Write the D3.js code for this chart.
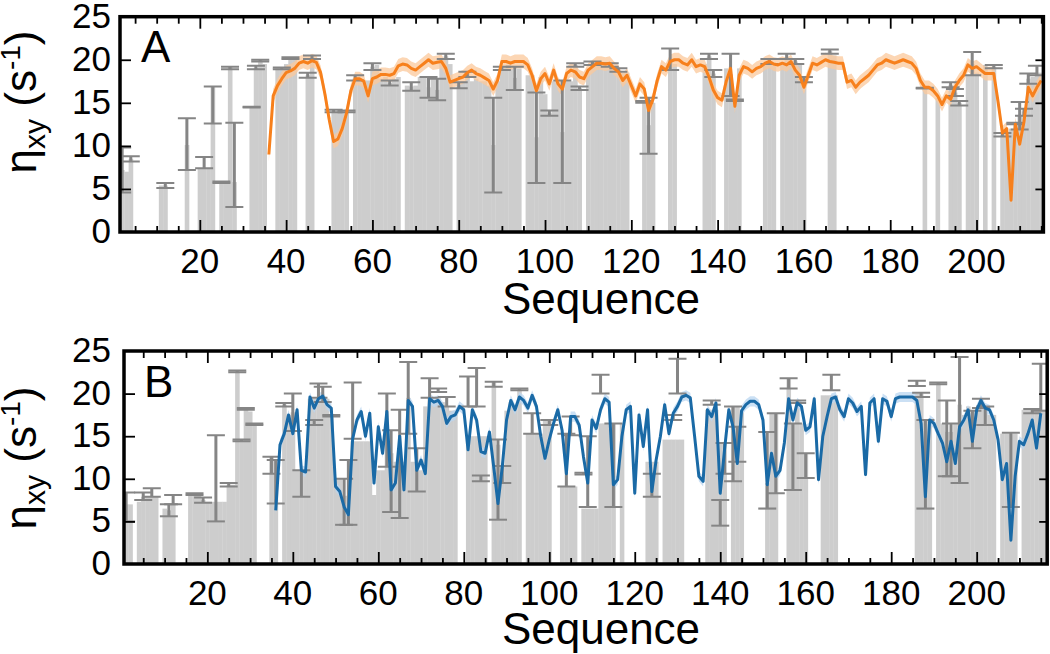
<!DOCTYPE html>
<html><head><meta charset="utf-8">
<script src="https://cdn.jsdelivr.net/npm/d3@7"></script>
<style>body{margin:0;background:#fff}</style>
</head><body>
<script>
// ---------------- DATA ----------------
// Panel A: per-residue bars [residue, value]
const barsA = [[2,7.2],[3,7.0],[4,8.5],[11,5.4],[12,5.4],[17,10.1],[20,7.4],[21,7.4],[22,7.4],[23,16.9],[25,5.8],[26,5.8],[27,19.2],[28,5.8],
[32,14.5],[33,19.1],[34,19.9],[35,19.5],[38,19.0],[39,19.0],[40,19.5],[41,20.2],[42,20.2],[45,18.2],[46,20.3],
[51,14.0],[52,14.0],[53,14.0],[54,14.0],[56,17.6],[57,17.6],[58,17.6],[59,17.6],[60,19.2],[61,19.4],[62,17.8],[63,18.0],[64,17.3],[65,17.8],[66,18.0],
[68,17.0],[69,16.9],[70,17.0],[71,18.0],[72,18.0],[73,16.8],[74,18.0],[75,16.5],[76,20.0],[77,20.4],[78,19.5],
[80,17.1],[81,17.5],[82,18.3],[83,17.5],[84,17.8],[85,17.5],[86,17.5],[87,17.0],[88,10.1],[89,17.5],[90,19.0],[91,19.2],[92,19.0],[93,17.9],[94,19.0],
[96,18.2],[97,18.2],[98,11.0],[99,18.0],[100,16.0],[101,13.8],[102,17.5],[103,17.5],[104,11.6],[105,17.5],[106,17.5],[107,19.4],[108,16.7],
[110,19.0],[111,19.6],[112,19.5],[113,19.5],[114,19.5],[115,19.4],[116,19.2],[117,18.8],[118,18.5],[119,18.5],
[123,15.1],[124,12.4],[125,15.0],[129,20.0],[130,19.5],[137,19.5],[138,20.4],[139,18.4],[142,19.0],[143,18.3],[144,15.3],[145,19.0],
[151,19.5],[152,19.8],[153,19.5],[155,19.5],[156,20.3],[157,19.8],[158,19.8],[159,19.5],[160,17.7],[166,21.0],[167,20.5],
[188,16.7],[191,15.6],[194,17.1],[195,16.2],[196,15.0],[198,18.2],[199,19.5],[200,18.5],[202,19.4],[204,19.2],
[206,11.3],[207,11.5],[208,12.0],[209,12.6],[210,13.5],[211,14.0],[212,17.8],[213,18.0],[214,18.5],[215,18.5]];
// Panel A error bars [residue, low, high]
const errA = [[2,4.6,9.8],[4,8.2,8.8],[12,5.1,5.7],[17,7.2,13.2],[21,7.4,8.7],[23,12.6,16.9],[25,5.7,5.85],[27,18.9,19.2],[28,2.9,12.7],
[32,14.45,14.55],[33,18.9,19.3],[34,19.8,20.0],[39,18.9,19.1],[41,20.1,20.3],[45,17.9,18.5],[46,20.1,20.5],[51,13.9,14.2],[54,13.9,14.1],
[56,17.6,18.2],[60,18.8,19.6],[64,17.0,17.6],[69,16.4,17.4],[73,15.6,18.0],[75,15.3,17.8],[77,20.1,20.7],[80,16.7,17.4],[82,18.0,18.6],
[88,4.6,15.6],[90,18.8,19.2],[93,16.5,19.2],[98,5.7,16.2],[101,13.5,14.1],[104,5.7,17.6],[107,19.2,19.6],[108,16.5,16.9],[111,19.4,19.8],
[115,19.2,19.6],[117,18.6,19.0],[123,15.0,15.2],[124,9.1,15.6],[129,18.8,21.3],[138,20.1,20.7],[139,18.0,18.8],[143,15.8,20.7],[144,15.2,15.4],
[152,19.5,20.1],[156,20.1,20.7],[158,19.5,20.1],[160,17.4,18.0],[166,20.7,21.2],[188,16.65,16.75],[194,16.8,17.4],[195,15.8,16.6],[196,14.7,15.2],
[199,18.2,20.9],[204,19.0,19.4],[206,11.1,11.5],[209,12.5,12.7],[210,11.9,15.1],[211,13.5,14.3],[212,17.2,18.4],[214,18.2,19.3]];
// Panel A curve, residues 36..215
const lineStart = 36;
const lineA = [9.0,15.8,17.0,17.8,18.5,18.7,19.0,19.6,19.8,19.6,
19.9,19.7,18.5,16.0,13.0,10.5,10.8,12.0,13.8,16.4,
17.8,17.8,17.5,15.8,17.8,18.0,18.3,18.3,18.2,18.4,
19.3,19.5,19.4,19.0,18.8,19.2,19.6,20.0,19.6,19.7,
19.8,19.0,17.4,17.6,17.8,18.0,18.5,18.8,18.4,18.2,
17.9,17.6,16.6,17.6,19.8,19.8,19.6,19.8,19.8,19.8,
19.4,18.2,16.4,17.8,18.4,17.2,18.8,17.2,16.6,18.4,
18.8,18.6,18.0,17.8,18.8,19.2,19.6,19.6,19.5,19.6,
19.0,18.6,17.6,18.2,17.0,15.8,17.2,16.6,14.1,15.4,
17.6,19.2,18.8,19.8,20.0,20.0,19.6,19.4,20.0,19.2,
19.4,19.2,18.0,16.5,15.6,15.3,17.5,19.0,14.6,18.2,
19.2,19.0,18.6,19.0,19.2,19.6,19.8,19.5,19.4,19.6,
19.4,19.8,18.8,18.2,16.8,18.2,19.6,19.4,19.7,20.0,
19.8,19.7,19.6,19.6,17.4,17.6,16.8,17.4,17.8,18.2,
18.8,19.4,19.6,20.0,19.8,19.6,19.8,20.0,19.8,19.6,
19.0,17.6,16.8,16.8,16.4,15.8,14.8,15.8,15.4,16.8,
17.6,18.2,19.4,19.0,19.2,18.8,18.4,18.4,18.4,15.1,
11.5,12.0,3.7,12.5,10.2,12.8,16.8,15.8,16.8,17.6];
const bandA = 0.8;

// Panel B
const barsB = [[1,7.0],[2,7.0],[4,7.3],[5,7.9],[6,7.9],[7,7.9],[8,7.9],[10,6.5],[11,6.3],[12,7.0],[16,8.3],[17,8.2],[18,8.0],[19,7.5],[20,7.3],[21,7.3],
[22,7.3],[23,7.3],[24,7.3],[25,9.3],[26,9.3],[27,22.6],[28,14.5],[29,18.2],[30,17.9],[31,16.4],[35,12.6],[36,12.2],[38,18.7],[39,17.5],[40,17.8],
[41,11.0],[42,11.0],[43,11.0],[44,19.4],[45,19.4],[46,19.4],[47,19.4],[48,19.4],[49,17.4],[50,10.0],[51,10.0],[52,8.0],[53,8.0],[54,14.4],[55,14.4],
[56,14.4],[57,14.4],[58,14.4],[59,8.1],[60,11.0],[61,11.0],[62,15.5],[63,13.0],[64,12.0],[65,11.5],[66,12.0],[67,19.5],[68,12.0],[69,11.0],[70,11.0],
[71,18.5],[72,19.5],[73,19.0],[74,19.5],[75,19.0],[76,18.5],[77,18.0],[78,18.0],[81,15.0],[82,15.0],[83,15.0],[84,15.0],[85,15.0],[87,21.4],[88,14.0],
[89,11.5],[90,18.0],[91,19.0],[92,18.0],[93,20.5],[95,15.3],[96,15.3],[97,15.3],[98,15.3],[99,16.9],[100,16.9],[103,9.1],[104,9.1],[105,9.1],[106,9.1],
[108,6.5],[109,6.5],[110,6.5],[111,6.5],[112,16.5],[113,16.5],[114,16.5],[115,16.5],[117,16.5],[123,12.0],[124,12.0],[125,12.0],[127,14.6],[128,14.6],
[129,14.6],[130,14.6],[131,14.6],[137,18.1],[138,18.1],[139,18.1],[140,14.2],[141,14.2],[143,18.5],[144,18.5],[145,18.0],[151,9.5],[152,17.7],[153,17.7],
[156,21.8],[157,16.5],[158,18.9],[159,16.5],[160,13.0],[164,19.8],[165,19.8],[166,19.8],[167,19.8],[186,20.0],[187,20.0],[188,16.9],[189,17.0],
[191,21.2],[192,16.5],[193,15.5],[194,15.5],[195,16.5],[196,18.7],[197,17.5],[198,18.5],[199,18.0],[200,18.0],[201,18.5],[202,18.5],[203,17.5],[204,17.5],
[206,15.3],[207,15.3],[208,15.3],[209,15.3],[211,18.1],[212,18.1],[213,18.1],[214,18.1],[215,18.1],[216,18.1]];
const errB = [[1,5.0,8.4],[5,7.5,8.4],[7,7.9,8.9],[11,5.6,7.0],[12,7.0,8.1],[17,8.1,8.3],[19,7.2,7.8],[22,5.0,15.1],[25,9.1,9.5],[27,22.5,22.7],
[28,14.4,14.6],[29,18.1,18.3],[31,16.3,16.5],[35,10.6,12.6],[36,7.1,12.2],[38,18.5,18.9],[40,15.6,20.0],[42,7.9,11.0],[45,16.3,16.9],[46,19.5,21.2],
[47,19.0,20.8],[49,17.3,17.5],[52,4.6,10.0],[53,4.6,12.2],[54,14.7,21.3],[62,11.4,20.0],[63,6.1,15.7],[65,5.4,18.1],[67,15.3,23.7],[69,8.5,13.6],
[72,19.5,21.8],[74,20.2,20.6],[76,18.5,19.6],[81,18.5,22.0],[83,18.5,23.0],[84,9.7,10.4],[87,20.8,21.4],[88,5.2,14.6],[89,9.5,11.5],[93,20.4,20.6],
[96,15.3,17.7],[100,16.3,16.9],[104,9.1,15.3],[105,15.1,17.3],[108,10.5,10.7],[109,6.7,15.0],[112,20.0,22.2],[115,6.7,16.5],[124,7.9,10.6],
[129,16.9,17.5],[130,20.0,24.1],[138,18.7,19.2],[140,4.5,7.5],[141,10.6,14.2],[143,9.7,18.5],[144,12.0,16.1],[151,6.5,15.5],[153,8.3,17.7],
[156,20.6,21.8],[157,8.7,16.5],[158,18.9,19.2],[160,10.1,13.0],[166,20.4,22.2],[186,20.9,21.5],[187,19.6,20.1],[188,6.5,16.9],[191,21.1,21.3],
[193,10.3,19.2],[194,10.3,16.5],[196,9.5,24.3],[199,13.6,18.0],[201,18.3,19.4],[202,16.3,18.5],[208,6.7,15.4],[213,17.7,18.2],[215,18.0,23.5]];
const lineB = [6.3,14.0,15.3,17.5,15.3,18.1,11.0,10.8,19.6,18.3,
19.4,19.7,18.7,18.3,9.1,8.5,6.7,5.8,14.7,16.9,
17.9,15.0,17.7,9.5,16.1,13.0,17.9,8.7,9.5,15.0,
8.7,19.2,18.5,11.0,12.2,10.6,19.4,19.0,19.2,18.5,
16.5,17.3,17.5,18.5,18.1,13.4,18.1,16.9,13.2,13.0,
15.5,11.4,7.1,11.4,16.9,19.2,18.1,19.6,19.2,18.3,
19.8,18.5,15.0,12.4,14.6,16.5,18.1,15.7,10.6,17.3,
17.3,16.3,12.6,9.5,16.9,15.9,18.1,19.4,19.0,9.3,
9.9,15.0,18.1,18.5,8.3,17.5,13.8,18.1,8.5,12.2,
15.0,18.7,15.3,17.7,18.5,19.6,19.8,19.5,15.0,10.3,
9.7,18.1,17.3,18.9,8.3,13.4,18.1,16.1,11.8,18.0,
18.7,19.1,19.1,18.7,16.9,9.3,13.0,10.3,11.0,14.2,
19.4,16.9,18.9,18.5,15.7,16.1,19.4,9.9,15.0,17.3,
19.4,19.6,18.1,17.3,19.4,18.9,17.9,18.5,10.5,18.9,
19.4,14.4,19.4,19.1,17.3,19.4,19.6,19.6,19.6,19.6,
19.2,16.5,7.9,16.9,16.5,15.3,14.2,12.0,14.4,11.8,
16.1,16.9,18.1,14.4,18.1,19.2,18.3,18.1,16.9,14.6,
9.9,11.8,2.8,10.3,14.4,14.0,15.3,16.9,13.6,17.7];
const bandB = 0.6;

const yTicks = [0,5,10,15,20,25];
const xMajor = [20,40,60,80,100,120,140,160,180,200];
const xMinor = d3.range(5,216,5).filter(d => d % 20 !== 0);

// ---------------- DRAW ----------------
const W = 1050, H = 654;
const FONT = "'Liberation Sans', Arial, Helvetica, sans-serif";
const svg = d3.select("body").append("svg").attr("width", W).attr("height", H)
  .style("font-family", FONT);

const panels = [
  {id:"A", bars:barsA, err:errA, line:lineA, band:bandA, color:"#f7801c", fill:"#fbc89b",
   left:120, right:1043.4, top:16.7, bottom:232, dom:[1.5,215.5], labelY:102, letterX:141, letterY:62, seqY:314},
  {id:"B", bars:barsB, err:errB, line:lineB, band:bandB, color:"#1a6aa6", fill:"#b9d6f0",
   left:124, right:1047.2, top:351, bottom:564, dom:[0.5,216.5], labelY:458, letterX:144, letterY:397, seqY:644}
];

panels.forEach(p => {
  const x = d3.scaleLinear().domain(p.dom).range([p.left, p.right]);
  const y = d3.scaleLinear().domain([0,25]).range([p.bottom, p.top]);
  const g = svg.append("g");
  const clipId = "clip" + p.id;
  g.append("clipPath").attr("id", clipId).append("rect")
    .attr("x", p.left).attr("y", p.top).attr("width", p.right - p.left).attr("height", p.bottom - p.top);
  const plot = g.append("g").attr("clip-path", `url(#${clipId})`);
  const bw = x(1) - x(0);

  plot.append("g").selectAll("rect").data(p.bars).join("rect")
    .attr("x", d => x(d[0] - 0.5)).attr("width", bw + 0.3)
    .attr("y", d => y(d[1])).attr("height", d => y(0) - y(d[1]))
    .attr("fill", "#cdcdcd");

  const pts = p.line.map((v, i) => [lineStart + i, v]);
  plot.append("path").datum(pts)
    .attr("d", d3.area().x(d => x(d[0])).y0(d => y(d[1] - p.band)).y1(d => y(d[1] + p.band)))
    .attr("fill", p.fill).attr("opacity", 0.75);

  const eg = plot.append("g").attr("stroke", "#858585");
  eg.selectAll("line.v").data(p.err).join("line").attr("class","v")
    .attr("x1", d => x(d[0])).attr("x2", d => x(d[0]))
    .attr("y1", d => y(d[1])).attr("y2", d => y(d[2])).attr("stroke-width", 3);
  const capHalf = 9;
  eg.selectAll("line.lo").data(p.err).join("line").attr("class","lo")
    .attr("x1", d => x(d[0]) - capHalf).attr("x2", d => x(d[0]) + capHalf)
    .attr("y1", d => y(d[1])).attr("y2", d => y(d[1])).attr("stroke-width", 2);
  eg.selectAll("line.hi").data(p.err).join("line").attr("class","hi")
    .attr("x1", d => x(d[0]) - capHalf).attr("x2", d => x(d[0]) + capHalf)
    .attr("y1", d => y(d[2])).attr("y2", d => y(d[2])).attr("stroke-width", 2);

  plot.append("path").datum(pts)
    .attr("d", d3.line().x(d => x(d[0])).y(d => y(d[1])))
    .attr("fill", "none").attr("stroke", p.color).attr("stroke-width", 3).attr("stroke-linejoin", "round");

  // ticks via axes
  const styleAxis = sel => { sel.select(".domain").remove(); sel.selectAll(".tick line").attr("stroke", "#000").attr("stroke-width", 1.8); sel.selectAll("text").remove(); };
  g.append("g").attr("transform", `translate(0,${p.bottom})`).call(d3.axisBottom(x).tickValues(xMinor).tickSize(-6)).call(styleAxis);
  g.append("g").attr("transform", `translate(0,${p.bottom})`).call(d3.axisBottom(x).tickValues(xMajor).tickSize(-12)).call(styleAxis);
  g.append("g").attr("transform", `translate(0,${p.top})`).call(d3.axisTop(x).tickValues(xMinor).tickSize(-7)).call(styleAxis);
  g.append("g").attr("transform", `translate(0,${p.top})`).call(d3.axisTop(x).tickValues(xMajor).tickSize(-12)).call(styleAxis);
  g.append("g").attr("transform", `translate(${p.left},0)`).call(d3.axisLeft(y).tickValues([5,10,15,20]).tickSize(-11)).call(styleAxis);
  g.append("g").attr("transform", `translate(${p.right},0)`).call(d3.axisRight(y).tickValues([5,10,15,20]).tickSize(-8)).call(styleAxis);

  // frame
  g.append("rect").attr("x", p.left).attr("y", p.top).attr("width", p.right - p.left).attr("height", p.bottom - p.top)
    .attr("fill", "none").attr("stroke", "#000").attr("stroke-width", 3.5);

  // tick labels
  g.append("g").selectAll("text").data(yTicks).join("text")
    .attr("x", 111).attr("y", d => y(d) + 11).attr("text-anchor", "end")
    .attr("font-size", 35).text(d => d);
  g.append("g").selectAll("text").data(xMajor).join("text")
    .attr("x", d => x(d)).attr("y", p.bottom + 41).attr("text-anchor", "middle")
    .attr("font-size", 35).text(d => d);

  // axis titles
  g.append("text").attr("x", 601).attr("y", p.seqY).attr("text-anchor", "middle")
    .attr("font-size", 44).text("Sequence");
  const yl = g.append("text").attr("transform", `translate(36,${p.labelY}) rotate(-90)`)
    .attr("text-anchor", "middle").attr("font-size", 44);
  yl.append("tspan").text("η");
  yl.append("tspan").attr("font-size", 30).attr("dy", 9).text("xy");
  yl.append("tspan").attr("dy", -9).text(" (s");
  yl.append("tspan").attr("font-size", 28).attr("dy", -16).text("-1");
  yl.append("tspan").attr("dy", 16).text(")");

  g.append("text").attr("x", p.letterX).attr("y", p.letterY).attr("font-size", 44).text(p.id);
});
</script>
</body></html>
